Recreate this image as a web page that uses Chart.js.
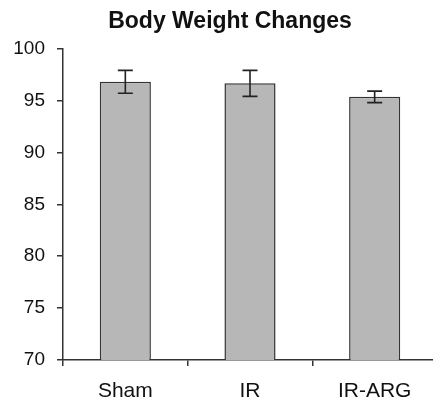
<!DOCTYPE html>
<html><head><meta charset="utf-8">
<script src="https://cdn.jsdelivr.net/npm/chart.js@4/dist/chart.umd.min.js"></script>
<style>html,body{margin:0;padding:0;background:#fff;overflow:hidden}#wrap{width:437px;height:401px}</style>
</head><body><div id="wrap"><canvas id="c" width="437" height="401"></canvas></div>
<script>
const categories = ["Sham", "IR", "IR-ARG"];
const meanWeight = [96.8, 96.65, 95.35];
const errWeight = [1.1, 1.25, 0.55];
const yTicks = [70, 75, 80, 85, 90, 95, 100];

const errorBars = {
  id: 'errorBars',
  afterLayout(chart) {
    // shift the title's box so its centre sits where the reference has it
    if (chart.titleBlock) { chart.titleBlock.left = 23; }
  },
  afterDatasetsDraw(chart) {
    const ctx = chart.ctx, x = chart.scales.x, y = chart.scales.y;
    ctx.save();
    ctx.strokeStyle = '#222';
    ctx.lineWidth = 1.6;
    meanWeight.forEach((v, i) => {
      const cx = x.getPixelForValue(i);
      const top = y.getPixelForValue(v + errWeight[i]);
      const bot = y.getPixelForValue(v - errWeight[i]);
      const half = 7.5;
      ctx.beginPath();
      ctx.moveTo(cx, top); ctx.lineTo(cx, bot);
      ctx.moveTo(cx - half, top); ctx.lineTo(cx + half, top);
      ctx.moveTo(cx - half, bot); ctx.lineTo(cx + half, bot);
      ctx.stroke();
    });
    ctx.restore();
  }
};

new Chart(document.getElementById('c'), {
  type: 'bar',
  data: {
    labels: categories,
    datasets: [{
      data: meanWeight,
      backgroundColor: '#b7b7b7',
      borderColor: '#333',
      borderWidth: 1.5,
      barPercentage: 0.41,
      categoryPercentage: 1.0
    }]
  },
  options: {
    responsive: false,
    animation: false,
    layout: { padding: { left: 0, right: 0, top: 0, bottom: 0 } },
    plugins: {
      legend: { display: false },
      tooltip: { enabled: false },
      title: {
        display: true,
        text: 'Body Weight Changes',
        color: '#111',
        font: { family: 'Liberation Sans, Arial, sans-serif', size: 23, weight: 'bold' },
        padding: { top: 8, bottom: 13 }
      }
    },
    scales: {
      x: {
        offset: true,
        afterFit: s => { s.height = 41; },
        grid: { offset: true, drawOnChartArea: false, drawTicks: true, tickLength: 6, color: '#333', lineWidth: 1.5 },
        border: { display: true, color: '#333', width: 1.5 },
        ticks: { color: '#111', padding: 13, font: { family: 'Liberation Sans, Arial, sans-serif', size: 21 } }
      },
      y: {
        min: 70, max: 100,
        afterFit: s => { s.width = 63; },
        afterBuildTicks: s => { s.ticks = yTicks.map(v => ({ value: v })); },
        grid: { drawOnChartArea: false, drawTicks: true, tickLength: 6, color: '#333', lineWidth: 1.5 },
        border: { display: true, color: '#333', width: 1.5 },
        ticks: { color: '#111', padding: 12, font: { family: 'Liberation Sans, Arial, sans-serif', size: 19 } }
      }
    }
  },
  plugins: [errorBars]
});
</script>
</body></html>
